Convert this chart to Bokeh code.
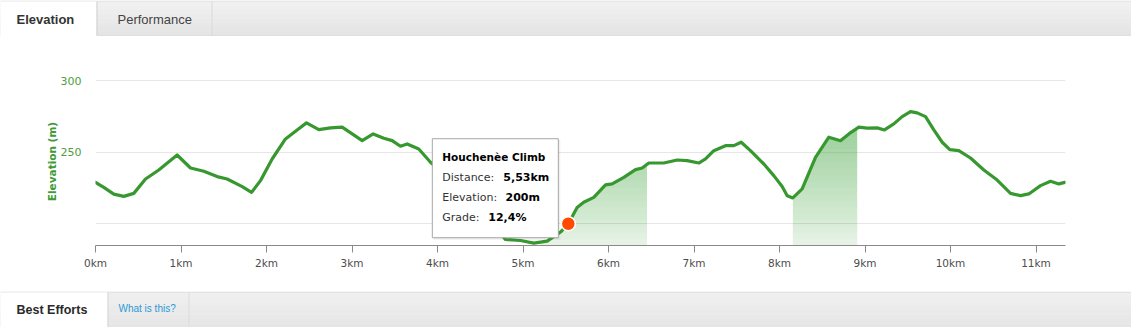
import numpy as np
from bokeh.plotting import figure
from bokeh.layouts import column
from bokeh.models import Range1d, FixedTicker
from bokeh.core.properties import value
from bokeh.embed import file_html
from bokeh.resources import INLINE

# ---------------- data ----------------
DIST_KM = [0.0, 0.097, 0.214, 0.331, 0.448, 0.585, 0.74, 0.955, 1.111, 1.267,
           1.423, 1.54, 1.716, 1.825, 1.93, 2.066, 2.222, 2.358, 2.468, 2.612,
           2.749, 2.885, 3.002, 3.119, 3.248, 3.372, 3.47, 3.567, 3.645, 3.781,
           3.918, 4.05, 4.25, 4.45, 4.65, 4.795, 4.971, 5.126, 5.283, 5.439,
           5.53, 5.633, 5.71, 5.828, 5.965, 6.043, 6.179, 6.316, 6.394, 6.472,
           6.647, 6.803, 6.92, 7.056, 7.135, 7.232, 7.368, 7.466, 7.552, 7.66,
           7.817, 7.933, 8.031, 8.09, 8.156, 8.265, 8.421, 8.577, 8.713, 8.811,
           8.928, 9.025, 9.142, 9.228, 9.337, 9.435, 9.532, 9.61, 9.708, 9.805,
           9.903, 9.992, 10.097, 10.234, 10.39, 10.546, 10.702, 10.819, 10.916, 11.053,
           11.17, 11.267, 11.337]
ELEV_M = [228.9, 225.4, 220.7, 219.1, 221.2, 231.2, 237.5, 248.0, 238.9, 236.6,
          232.9, 231.2, 225.9, 221.9, 230.1, 245.2, 259.2, 265.5, 270.4, 265.7,
          266.9, 267.4, 262.7, 258.0, 262.7, 259.7, 258.0, 254.1, 255.7, 252.2,
          242.9, 236.0, 225.0, 212.0, 199.0, 189.0, 188.3, 186.5, 187.9, 194.2,
          200.0, 211.4, 215.0, 218.4, 227.1, 227.8, 232.4, 237.8, 238.9, 242.4,
          242.4, 244.5, 244.1, 242.4, 245.2, 251.0, 254.5, 254.5, 256.9, 251.0,
          241.7, 233.6, 226.0, 219.6, 218.0, 224.3, 246.4, 260.4, 258.0, 262.7,
          267.4, 266.7, 266.9, 265.5, 269.7, 274.8, 278.3, 277.4, 274.8, 265.5,
          256.9, 251.7, 251.0, 245.9, 237.5, 230.5, 221.2, 219.6, 220.8, 226.6,
          229.6, 227.8, 228.9]

CLIMB_STARTS = [5.20, 8.156]
CLIMB_ENDS = [6.45, 8.91]

X_TICKS = [0, 1, 2, 3, 4, 5, 6, 7, 8, 9, 10, 11]
X_TICK_LABELS = ["0km", "1km", "2km", "3km", "4km", "5km", "6km", "7km", "8km", "9km", "10km", "11km"]
Y_TICKS = [200, 250, 300]
Y_TICK_LABELS = ["", "250", "300"]

TIP_NAME = "Houchenèe Climb"
TIP_LABELS = ["Distance:", "Elevation:", "Grade:"]
TIP_VALUES = ["5,53km", "200m", "12,4%"]
TIP_DIST = 5.53
TIP_ELEV = 200.0

TAB_TOP = ["Elevation", "Performance"]
TAB_BOTTOM = ["Best Efforts", "What is this?"]

# ---------------- style ----------------
GREEN = "#389830"
W = 1131
CH_H = 255
BL, BR, BT, BB = 95, 66, 41, 46
X0, X1 = 0.0, 11.345
Y0, Y1 = 184.8, 302.1
FW = W - BL - BR
FH = CH_H - BT - BB
KPP = (X1 - X0) / FW
MPP = (Y1 - Y0) / FH

x = np.array(DIST_KM)
y = np.array(ELEV_M)

# ---------------- chart ----------------
p = figure(width=W, height=CH_H, output_backend="svg", toolbar_location=None,
           x_range=Range1d(X0, X1), y_range=Range1d(Y0, Y1), frame_align=False,
           min_border_left=BL, min_border_right=BR, min_border_top=BT, min_border_bottom=BB)
p.outline_line_color = None
p.background_fill_color = "white"
p.border_fill_color = "white"
p.xgrid.grid_line_color = None
p.ygrid.grid_line_color = "#e6e6e6"
p.ygrid.ticker = FixedTicker(ticks=Y_TICKS)

xa = p.xaxis[0]
xa.ticker = FixedTicker(ticks=X_TICKS)
xa.major_label_overrides = {t: l for t, l in zip(X_TICKS, X_TICK_LABELS)}
xa.axis_line_color = "#8a8a8a"
xa.major_tick_line_color = "#8a8a8a"
xa.major_tick_in = 0
xa.major_tick_out = 7
xa.minor_tick_line_color = None
xa.major_label_standoff = 4
xa.major_label_text_font = "DejaVu Sans"
xa.major_label_text_font_size = "10.5px"
xa.major_label_text_color = "#4d4d4d"

ya = p.yaxis[0]
ya.ticker = FixedTicker(ticks=Y_TICKS)
ya.major_label_overrides = {t: l for t, l in zip(Y_TICKS, Y_TICK_LABELS)}
ya.axis_line_color = None
ya.major_tick_line_color = None
ya.minor_tick_line_color = None
ya.major_label_standoff = 8
ya.major_label_text_font = "DejaVu Sans"
ya.major_label_text_font_size = "11px"
ya.major_label_text_color = "#4c9e3c"
ya.axis_label = "Elevation (m)"
ya.axis_label_text_font = "DejaVu Sans"
ya.axis_label_text_font_style = "bold"
ya.axis_label_text_font_size = "10.5px"
ya.axis_label_text_color = "#3f9a35"
ya.axis_label_standoff = 0

# climb shading with layered gradient
for s, e in zip(CLIMB_STARTS, CLIMB_ENDS):
    inner = (x > s) & (x < e)
    xs = np.concatenate([[s], x[inner], [e]])
    ys = np.concatenate([[np.interp(s, x, y)], y[inner], [np.interp(e, x, y)]])
    p.varea(x=xs, y1=np.full_like(xs, Y0), y2=ys, fill_color=GREEN, fill_alpha=0.12)
    for t in np.arange(189.0, 280.0, 4.5):
        p.varea(x=xs, y1=np.full_like(xs, t), y2=np.maximum(ys, t),
                fill_color=GREEN, fill_alpha=0.022)

p.line(x, y, line_color=GREEN, line_width=3.2, line_join="round", line_cap="round")

# tooltip (positioned relative to hovered point, offsets in px)
def dx(px):
    return TIP_DIST + px * KPP

def dy(px):
    return TIP_ELEV - px * MPP

p.quad(left=[dx(-135)], right=[dx(-8)], top=[dy(-84)], bottom=[dy(16)],
       fill_color="#000000", fill_alpha=0.06, line_color=None)
p.quad(left=[dx(-136)], right=[dx(-10)], top=[dy(-85)], bottom=[dy(14)],
       fill_color="white", line_color="#a6a6a6", line_width=1)
p.text(x=[dx(-126)], y=[dy(-66.5)], text=[TIP_NAME], text_font=value("DejaVu Sans"),
       text_font_size=value("10.5px"), text_font_style="bold", text_color="black",
       text_baseline="middle", text_align="left")
row_dy = [-46.6, -26.6, -6.0]
val_dx = [-65.0, -62.8, -80.0]
for lab, val, ry, vx in zip(TIP_LABELS, TIP_VALUES, row_dy, val_dx):
    p.text(x=[dx(-126)], y=[dy(ry)], text=[lab], text_font=value("DejaVu Sans"),
           text_font_size=value("11px"), text_color="#333333",
           text_baseline="middle", text_align="left")
    p.text(x=[dx(vx)], y=[dy(ry)], text=[val], text_font=value("DejaVu Sans"),
           text_font_size=value("11px"), text_font_style="bold", text_color="black",
           text_baseline="middle", text_align="left")

p.scatter([TIP_DIST], [TIP_ELEV], size=14, fill_color="#ff4a00", line_color="white", line_width=1.5)

# ---------------- tab bars ----------------
def bar_fig(h):
    f = figure(width=W, height=h, output_backend="svg", toolbar_location=None,
               x_range=Range1d(0, W), y_range=Range1d(h, 0), frame_align=False,
               x_axis_location=None, y_axis_location=None,
               min_border=0, min_border_left=0, min_border_right=0,
               min_border_top=0, min_border_bottom=0)
    f.outline_line_color = None
    f.grid.visible = False
    f.background_fill_color = "white"
    f.border_fill_color = "white"
    return f

def gradient(f, x0, x1, y0, y1, c0, c1, n=8):
    c0 = np.array([int(c0[i:i + 2], 16) for i in (1, 3, 5)])
    c1 = np.array([int(c1[i:i + 2], 16) for i in (1, 3, 5)])
    edges = np.linspace(y0, y1, n + 1)
    cols = []
    for k in range(n):
        c = (c0 + (c1 - c0) * (k + 0.5) / n).round().astype(int)
        cols.append("#%02x%02x%02x" % tuple(c))
    f.quad(left=[x0] * n, right=[x1] * n, top=list(edges[:-1]), bottom=list(edges[1:]),
           fill_color=cols, line_color=cols, line_width=0.5)

top = bar_fig(36)
gradient(top, 0, W, 1, 35, "#f1f1f1", "#e4e4e4")
top.quad(left=[0], right=[W], top=[0], bottom=[1], fill_color="#dadada", line_color=None)
top.quad(left=[96], right=[W], top=[35], bottom=[36], fill_color="#d3d3d3", line_color=None)
top.quad(left=[0], right=[96], top=[1], bottom=[36], fill_color="white", line_color=None)
top.quad(left=[96, 211], right=[97, 212], top=[1, 1], bottom=[35, 35],
         fill_color=["#d0d0d0", "#dadada"], line_color=None)
top.text(x=[16], y=[18.5], text=[TAB_TOP[0]], text_font=value("Liberation Sans"),
         text_font_size=value("13px"), text_font_style="bold", text_color="#333333",
         text_baseline="middle", text_align="left")
top.text(x=[117], y=[18.5], text=[TAB_TOP[1]], text_font=value("Liberation Sans"),
         text_font_size=value("13px"), text_color="#444444",
         text_baseline="middle", text_align="left")

bot = bar_fig(36)
gradient(bot, 0, W, 1, 36, "#f0f0f0", "#e5e5e5")
bot.quad(left=[0], right=[W], top=[0], bottom=[1], fill_color="#d6d6d6", line_color=None)
bot.quad(left=[0], right=[107], top=[1], bottom=[36], fill_color="white", line_color=None)
bot.quad(left=[107, 188], right=[108, 189], top=[1, 1], bottom=[36, 36],
         fill_color=["#d6d6d6", "#dcdcdc"], line_color=None)
bot.text(x=[16], y=[18.5], text=[TAB_BOTTOM[0]], text_font=value("Liberation Sans"),
         text_font_size=value("12.5px"), text_font_style="bold", text_color="#2a2a2a",
         text_baseline="middle", text_align="left")
bot.text(x=[118], y=[17], text=[TAB_BOTTOM[1]], text_font=value("Liberation Sans"),
         text_font_size=value("10px"), text_color="#2a9ad6",
         text_baseline="middle", text_align="left")

layout = column(top, p, bot, spacing=0)
open("out.html", "w").write(file_html(layout, INLINE))
